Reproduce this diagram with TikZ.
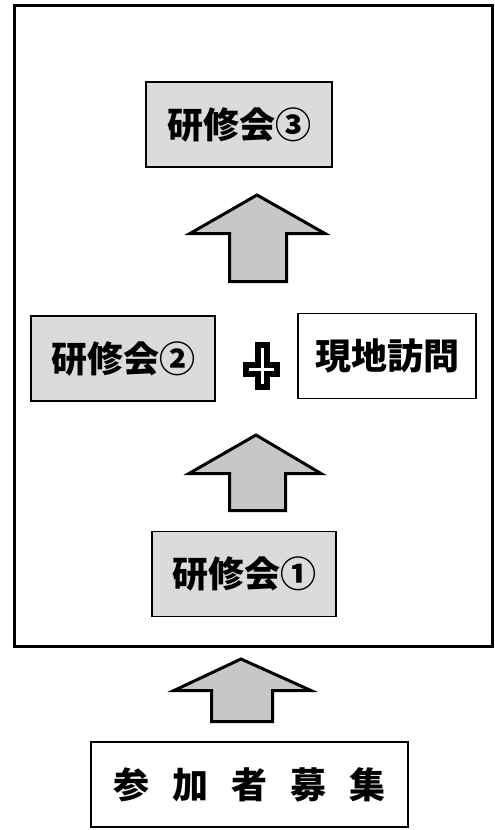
\documentclass[tikz,border=0pt]{standalone}
\usepackage{fontspec}
\newfontfamily\cjk{Noto Sans CJK JP}
\definecolor{boxgray}{gray}{0.86}
\definecolor{arrowgray}{gray}{0.78}
\tikzset{
  stagebox/.style={draw=black, line width=1.5pt, fill=boxgray, minimum height=85pt, inner sep=0pt, font=\cjk\bfseries\fontsize{36}{40}\selectfont},
  plainbox/.style={stagebox, fill=white},
  blockarrow/.style={draw=black, line width=3pt, fill=arrowgray, line join=miter},
  plussign/.style={draw=black, line width=5.5pt, fill=white, line join=miter},
  outerframe/.style={draw=black, line width=3pt}
}
\begin{document}
\begin{tikzpicture}[x=1pt,y=-1pt]
\useasboundingbox (0,0) rectangle (495,830);
\fill[white] (0,0) rectangle (495,830);
\draw[outerframe] (14.5,5.5) rectangle (492.5,646.5);

\node[stagebox, minimum width=186pt] (s3) at (239,124.5) {研修会③};
\node[stagebox, minimum width=184pt] (s2) at (123,358.5) {研修会②};
\node[plainbox, minimum width=178pt] (visit) at (387,356) {現地訪問};
\node[stagebox, minimum width=184pt] (s1) at (244,574) {研修会①};
\node[plainbox, minimum width=317pt] (rec) at (249.5,784.5) {参\hspace{23pt}加\hspace{23pt}者\hspace{23pt}募\hspace{23pt}集};

% block arrows
\draw[blockarrow] (257,195) -- (325,233.5) -- (286.5,233.5) -- (286.5,281.5) -- (229.5,281.5) -- (229.5,233.5) -- (190,233.5) -- cycle;
\draw[blockarrow] (256,435) -- (321,473.5) -- (285.5,473.5) -- (285.5,510.5) -- (229.5,510.5) -- (229.5,473.5) -- (189,473.5) -- cycle;
\draw[blockarrow] (241,659) -- (311,690.5) -- (272.5,690.5) -- (272.5,721.5) -- (211.5,721.5) -- (211.5,690.5) -- (174,690.5) -- cycle;

% plus sign
\draw[plussign] (258,345) -- (267,345) -- (267,365) -- (277,365) -- (277,374) -- (267,374) -- (267,387) -- (258,387) -- (258,374) -- (246,374) -- (246,365) -- (258,365) -- cycle;
\end{tikzpicture}
\end{document}
